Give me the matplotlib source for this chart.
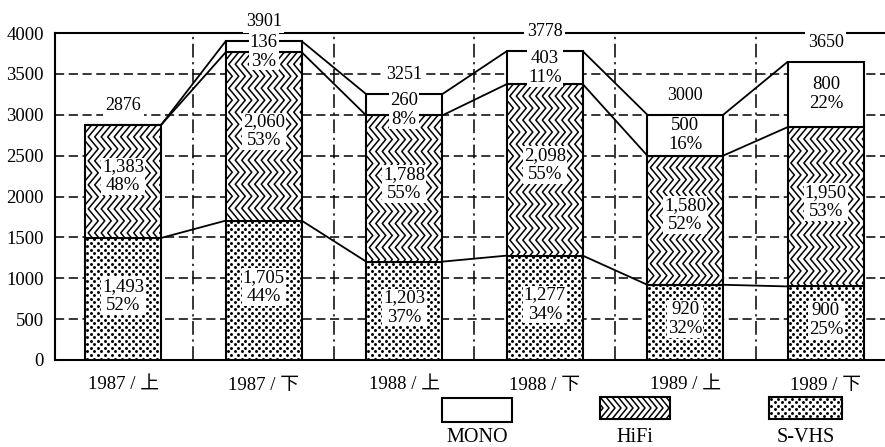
import numpy as np
import matplotlib
matplotlib.use("Agg")
import matplotlib.pyplot as plt
from matplotlib.patches import Rectangle
from matplotlib.collections import LineCollection
from matplotlib.transforms import Affine2D

# ---- data -------------------------------------------------------------
periods = ["1987 / 上", "1987 / 下", "1988 / 上", "1988 / 下", "1989 / 上", "1989 / 下"]
svhs = [1493, 1705, 1203, 1277, 920, 900]
hifi = [1383, 2060, 1788, 2098, 1580, 1950]
mono = [0, 136, 260, 403, 500, 800]
totals = [2876, 3901, 3251, 3778, 3000, 3650]
svhs_pct = [52, 44, 37, 34, 32, 25]
hifi_pct = [48, 53, 55, 55, 52, 53]
mono_pct = [None, 3, 8, 11, 16, 22]
series_names = ["MONO", "HiFi", "S-VHS"]
yticks = [0, 500, 1000, 1500, 2000, 2500, 3000, 3500, 4000]

FONT = ["Liberation Serif", "Noto Sans CJK JP"]
plt.rcParams["font.family"] = FONT

W, H = 885, 447
fig = plt.figure(figsize=(W / 100, H / 100), dpi=100)
ax = fig.add_axes([55 / W, 87 / H, 1 - 55 / W, 327 / H])

x = np.arange(len(periods))
bw = 0.54
ax.set_xlim(-0.485, 5.421)
ax.set_ylim(0, 4000)

svhs_arr = np.array(svhs)
hifi_top = svhs_arr + np.array(hifi)
tot_top = hifi_top + np.array(mono)

# ---- bars ---------------------------------------------------------------
kw = dict(width=bw, color="white", edgecolor="black", linewidth=1.5, zorder=3)
b_s = ax.bar(x, svhs, **kw)
b_h = ax.bar(x, hifi, bottom=svhs_arr, **kw)
b_m = ax.bar(x, mono, bottom=hifi_top, **kw)

# pixel scale of the data axes
p00 = ax.transData.transform((0, 0))
p11 = ax.transData.transform((1, 1))
sx, sy = p11[0] - p00[0], p11[1] - p00[1]


def chevron_segments(x0, x1, y0, y1, dx=6.5, hh=12.0, amp=10.0):
    """Zig-zag polylines (pixel units) covering the box: stacked '>' chevrons."""
    segs = []
    n = int(np.ceil((y1 - y0) / hh)) + 3
    ys = (y1 + hh) - np.arange(n) * hh
    offs = np.where(np.arange(n) % 2 == 0, 0.0, amp)
    for xp in np.arange(x0 - amp - dx, x1 + dx, dx):
        segs.append(np.column_stack([xp + offs, ys]))
    return segs


def dot_grid(x0, x1, y0, y1, step=7.0, row=3.5):
    """Staggered dot lattice (pixel units) covering the box."""
    pts = []
    for k, yy in enumerate(np.arange(y0 + 1.5, y1, row)):
        shift = 0.0 if k % 2 == 0 else step / 2
        for xx in np.arange(x0 + 2 + shift, x1, step):
            pts.append((xx, yy))
    return np.array(pts)


for rect in b_h:
    rx, ry = rect.get_x(), rect.get_y()
    segs = chevron_segments(rx * sx, (rx + rect.get_width()) * sx,
                            ry * sy, (ry + rect.get_height()) * sy)
    segs = [np.column_stack([s[:, 0] / sx, s[:, 1] / sy]) for s in segs]
    lc = LineCollection(segs, colors="black", linewidths=1.1, zorder=3.2,
                        transform=ax.transData)
    ax.add_collection(lc)
    lc.set_clip_path(rect)

for rect in b_s:
    rx, ry = rect.get_x(), rect.get_y()
    pts = dot_grid(rx * sx, (rx + rect.get_width()) * sx,
                   ry * sy, (ry + rect.get_height()) * sy)
    sc = ax.scatter(pts[:, 0] / sx, pts[:, 1] / sy, s=4.5, marker="o",
                    color="black", linewidths=0, zorder=3.2)
    sc.set_clip_path(rect)

# ---- connecting lines between bars -----------------------------------------
for level in (svhs_arr, hifi_top, tot_top):
    for i in range(len(x) - 1):
        ax.plot([x[i] + bw / 2, x[i + 1] - bw / 2], [level[i], level[i + 1]],
                color="black", lw=1.3, zorder=2, solid_capstyle="butt")

# ---- grid --------------------------------------------------------------
for yv in yticks[1:-1]:
    ax.axhline(yv, color="black", lw=1.1, ls=(0, (6, 3)), zorder=1)
for xm in (x[:-1] + 0.5):
    ax.axvline(xm, color="black", lw=1.1, ls=(0, (9, 3, 1.5, 3)), zorder=1)

# ---- value labels -------------------------------------------------------
FS = 13.5
white = dict(boxstyle="square,pad=0.05", fc="white", ec="none")
lab_kw = dict(ha="center", va="center", fontsize=FS, zorder=5, linespacing=1.15,
              bbox=white)
for i in range(len(x)):
    ax.text(x[i], svhs[i] / 2 + 40, f"{svhs[i]:,}\n{svhs_pct[i]}%", **lab_kw)
    ax.text(x[i], svhs[i] + hifi[i] / 2 + 60, f"{hifi[i]:,}\n{hifi_pct[i]}%", **lab_kw)
    if mono[i] > 0:
        ax.text(x[i], hifi_top[i] + mono[i] / 2 - (60 if mono[i] < 300 else 0),
                f"{mono[i]:,}\n{mono_pct[i]}%", **lab_kw)
    ax.annotate(f"{totals[i]}", (x[i], tot_top[i]), xytext=(0, 8),
                textcoords="offset points", ha="center", va="bottom",
                fontsize=13, zorder=5, annotation_clip=False,
                bbox=dict(boxstyle="square,pad=0.15", fc="white", ec="none"))

# ---- axes styling -----------------------------------------------------------
ax.set_xticks(x)
ax.set_xticklabels(periods, fontsize=13.5, family=FONT)
ax.set_yticks(yticks)
ax.set_yticklabels([str(v) for v in yticks], fontsize=13.5)
ax.tick_params(axis="both", length=0)
ax.tick_params(axis="x", pad=12)
ax.tick_params(axis="y", pad=8)
for side in ("left", "bottom", "top"):
    ax.spines[side].set_linewidth(1.5)
ax.spines["right"].set_visible(False)

# ---- legend (boxes with names beneath) ---------------------------------------
px = Affine2D().scale(1 / W, -1 / H).translate(0, 1) + fig.transFigure
boxes = {"MONO": (442, 398, 70, 24), "HiFi": (600, 397, 70, 22), "S-VHS": (769, 397, 73, 22)}
for name in series_names:
    bx, by, bwid, bht = boxes[name]
    r = Rectangle((bx, by), bwid, bht, transform=px, facecolor="white",
                  edgecolor="black", linewidth=1.5, zorder=3)
    fig.add_artist(r)
    if name == "HiFi":
        segs = [np.array([[xp, by], [xp + 9, by + bht / 2], [xp, by + bht]])
                for xp in np.arange(bx - 12, bx + bwid + 12, 6.0)]
        art = LineCollection(segs, colors="black", linewidths=1.1, transform=px, zorder=3.2)
        fig.add_artist(art)
        art.set_clip_path(r)
    elif name == "S-VHS":
        pts = dot_grid(bx, bx + bwid, by, by + bht)
        art = fig.add_artist(plt.Line2D(pts[:, 0], pts[:, 1], ls="none", marker="o",
                                        markersize=2.1, color="black", markeredgewidth=0,
                                        transform=px, zorder=3.2))
        art.set_clip_path(r)
    fig.text((bx + bwid / 2) / W, 1 - 438 / H, name, ha="center", va="center",
             fontsize=14.5)

fig.savefig("out.png", dpi=100)
